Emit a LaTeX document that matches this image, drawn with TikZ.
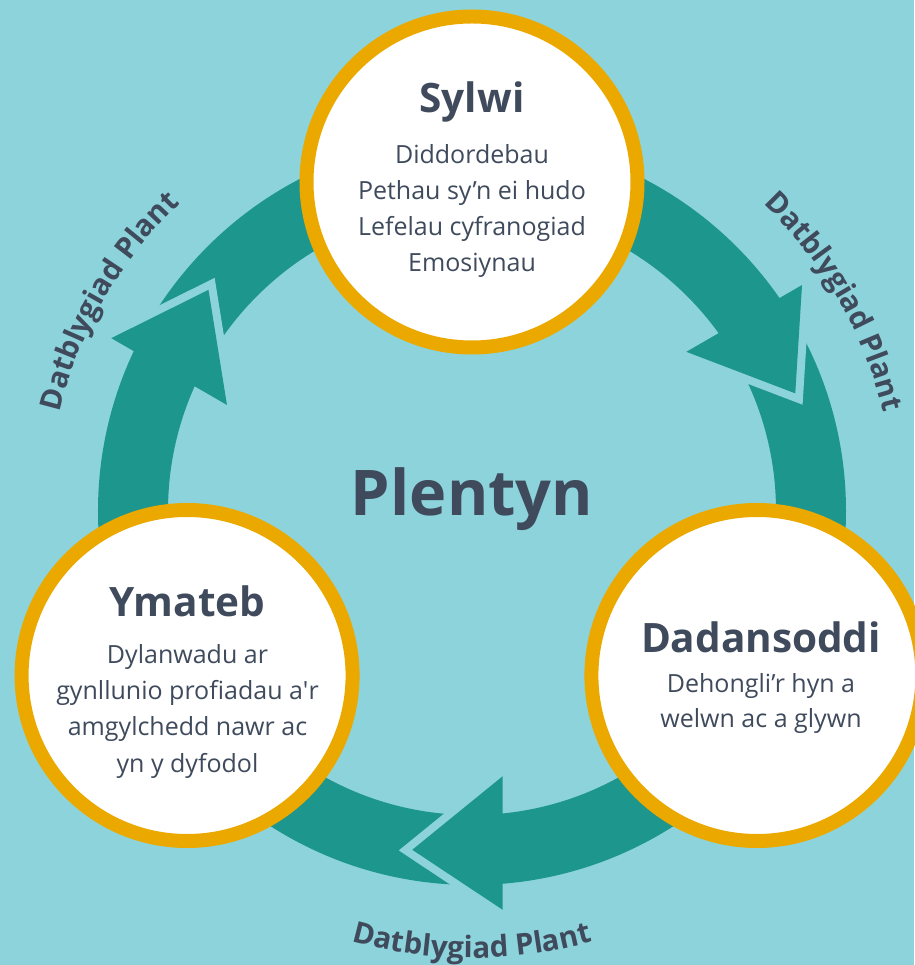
\documentclass[tikz,border=0pt]{standalone}
\usepackage{fontspec}
\setmainfont{Open Sans}
\usetikzlibrary{decorations.text}
\definecolor{bgblue}{HTML}{8DD3DB}
\definecolor{ringteal}{HTML}{1D968D}
\definecolor{rimorange}{HTML}{EBA900}
\definecolor{inkslate}{HTML}{3F4B5C}
\tikzset{
  stage/.style={circle, draw=rimorange, line width=14pt, fill=white, minimum size=331pt, inner sep=0pt},
  stagetitle/.style={anchor=base, text=inkslate, inner sep=0pt, font=\fontsize{40.5}{48}\selectfont\bfseries},
  stagebody/.style={anchor=base, text=inkslate, inner sep=0pt, align=center, font=\fontsize{25}{36.3}\selectfont},
  headgap/.style={draw=bgblue, line width=16pt, miter limit=10},
  curvelabel/.style={decorate, decoration={text along path, text align=center, text color=inkslate,
    text={|\fontsize{29.5}{32}\selectfont\bfseries|Datblygiad Plant}}}
}
\begin{document}
\begin{tikzpicture}[x=1pt, y=1pt]
% Drawing background
\fill[bgblue] (-472,-454) rectangle (442,511);
\useasboundingbox (-472,-454) rectangle (442,511);

% Drawing ring
\fill[ringteal, even odd rule] (0,0) circle (374) (0,0) circle (304);

% Drawing arrow heads, each with a gap in front
\foreach \a in {35.5,155.5,275.5}{
  \draw[headgap] ({\a-1.1}:400) -- ({\a-15.5}:344) -- ({\a+1.1}:267);
  \fill[ringteal] ({\a-1.1}:400) -- ({\a-15.5}:344) -- ({\a+1.1}:267) -- cycle;
}

% Drawing stage circles
\node[stage] (sylwi) at (90:329) {};
\node[stage] (ymateb) at (210:329) {};
\node[stage] (dadansoddi) at (330:329) {};

% Marking stage Sylwi (base is the last line)
\node[stagetitle] (sylwititle) at (0,398) {Sylwi};
\node[stagebody] (sylwitext) at (0,239) {Diddordebau\\Pethau sy’n ei hudo\\Lefelau cyfranogiad\\Emosiynau};

% Marking stage Ymateb
\node[stagetitle] (ymatebtitle) at (-284.5,-106) {Ymateb};
\node[stagebody] (ymatebtext) at (-284.5,-261) {Dylanwadu ar\\gynllunio profiadau a\textquotesingle r\\amgylchedd nawr ac\\yn y dyfodol};

% Marking stage Dadansoddi
\node[stagetitle] (dadansoddititle) at (289,-141) {Dadansoddi};
\node[stagebody, font=\fontsize{25}{34.5}\selectfont] (dadansodditext) at (289,-216) {Dehongli’r hyn a\\welwn ac a glywn};

% Marking centre Plentyn
\node[anchor=base, text=inkslate, inner sep=0pt, font=\fontsize{63}{66}\selectfont\bfseries] (plentyn) at (0,-5) {Plentyn};

% Marking labels along the ring
\path[curvelabel] (52:423) arc[start angle=52, end angle=8, radius=423];
\path[curvelabel] (182:424) arc[start angle=182, end angle=118, radius=424];
\path[curvelabel] (-122:447) arc[start angle=-122, end angle=-58, radius=447];
\end{tikzpicture}
\end{document}
